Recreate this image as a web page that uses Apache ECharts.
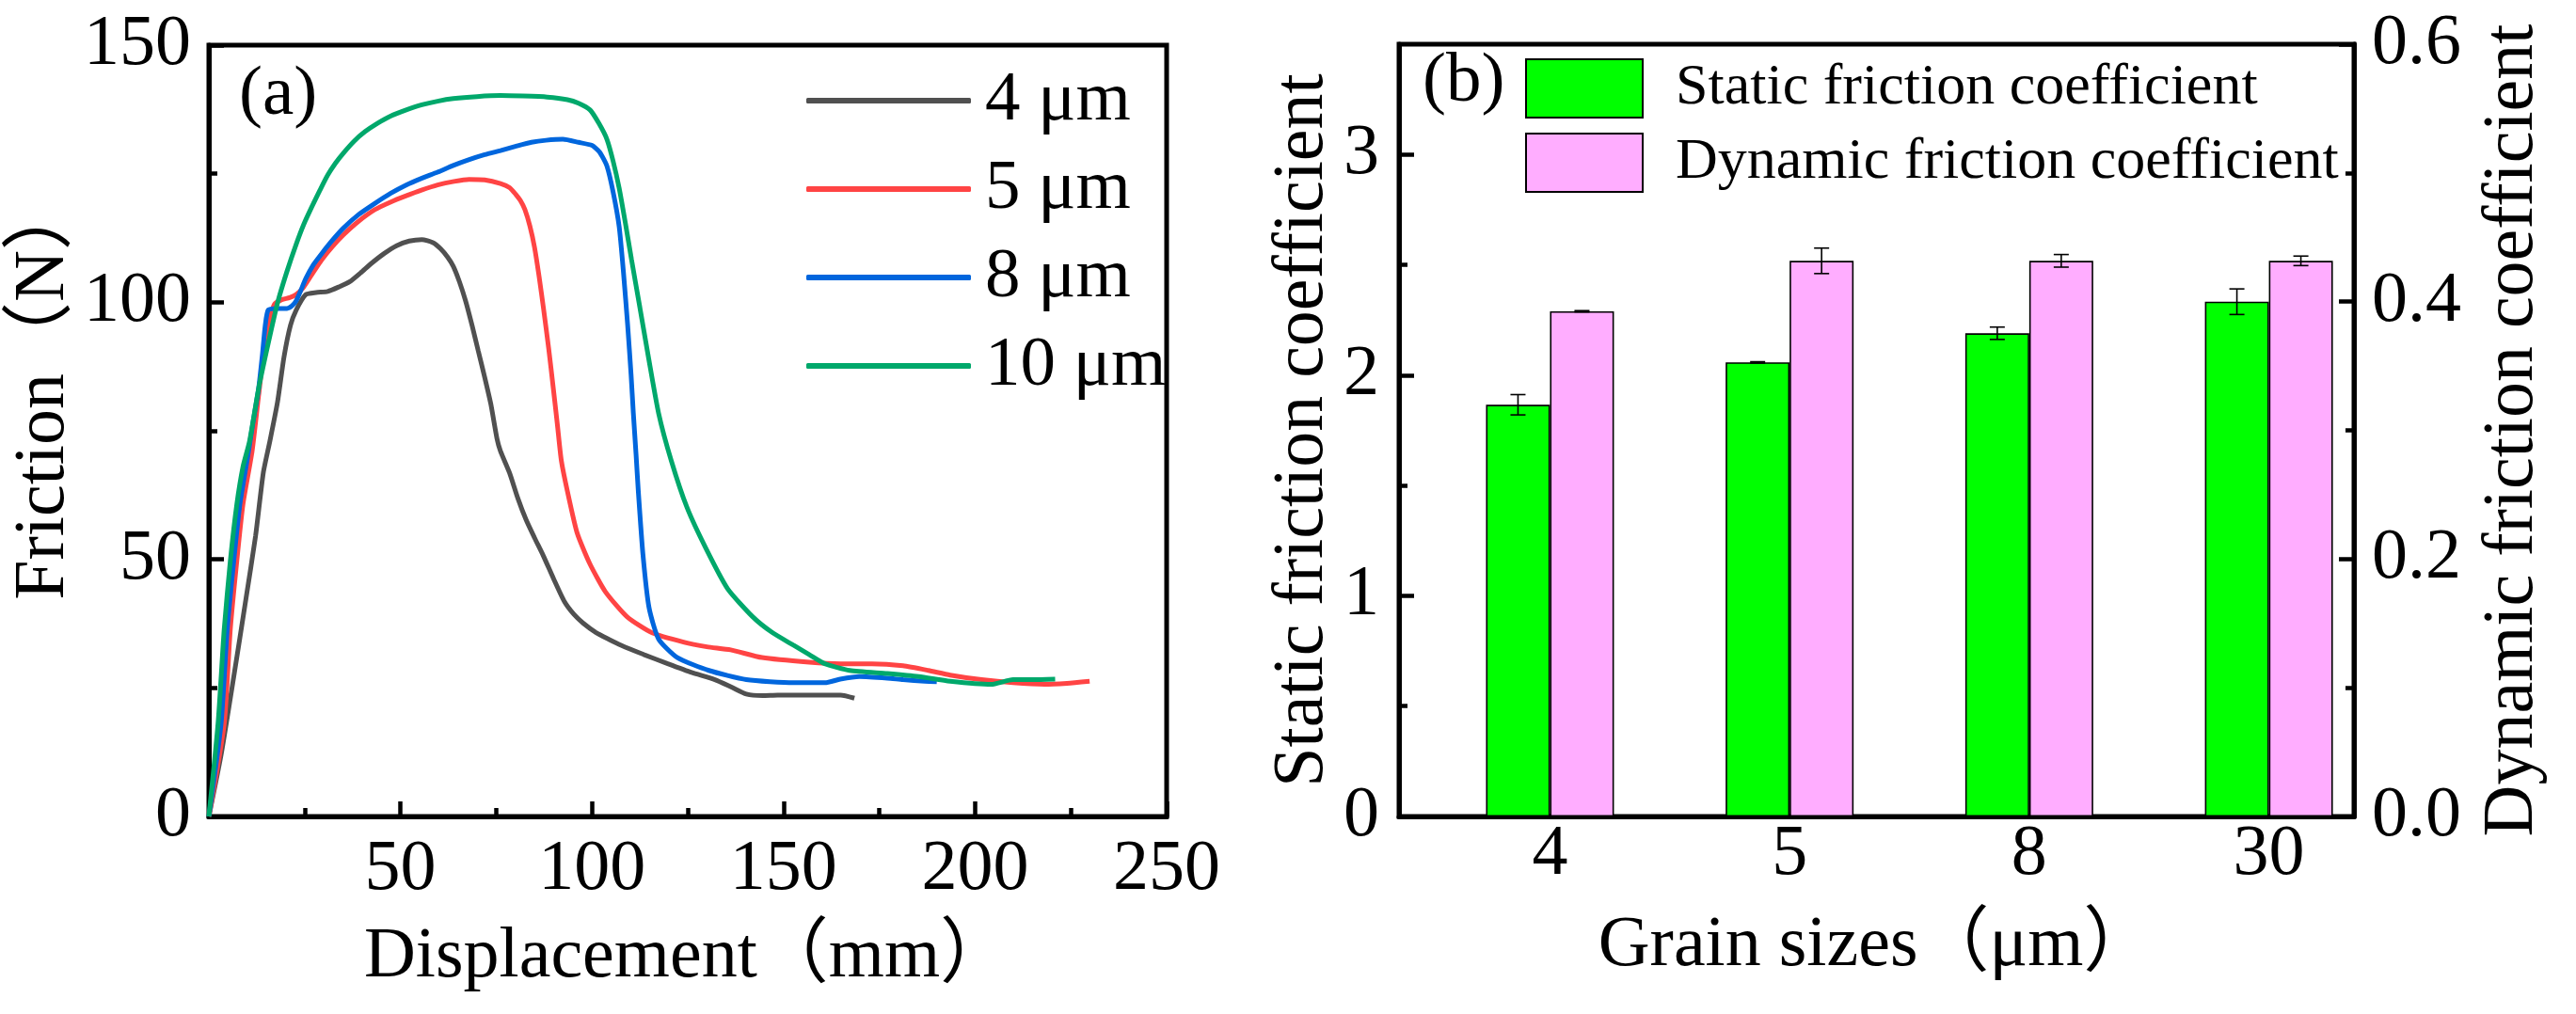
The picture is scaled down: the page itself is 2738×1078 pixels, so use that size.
<!DOCTYPE html>
<html>
<head>
<meta charset="utf-8">
<script src="https://cdn.jsdelivr.net/npm/echarts@6/dist/echarts.min.js"></script>
<style>
html, body { margin: 0; padding: 0; background: #fff; }
#main { width: 2738px; height: 1078px; }
</style>
</head>
<body>
<div id="main"></div>
<script>
// (a) friction vs displacement, [displacement mm, friction N]
var curve4um = [[0,0],[3.2,12],[6.5,27.2],[9.7,42.4],[12.2,54.6],[14.2,66.8],[15.9,72.9],[17.9,80.5],[19.6,89.3],[21.3,95.5],[22.8,98.5],[25.3,101.5],[28,101.9],[31,102.1],[34,103],[36.8,104],[39.6,105.7],[42.5,107.6],[45.8,109.5],[49,111],[52.3,111.9],[55.6,112.2],[58.5,111.6],[60.5,110.4],[62.3,108.8],[63.8,107],[65.4,104],[67,100.3],[68.7,95.5],[70.3,90.6],[72,85.4],[73.6,80.2],[75.2,73.5],[76.1,71.1],[78.5,66.8],[80.6,62],[82.8,57.7],[85,54.2],[87.3,50.7],[90,46.2],[92.8,41.8],[95.3,39.3],[97.7,37.6],[101,35.8],[104.3,34.5],[107.6,33.3],[113.5,31.5],[119.8,29.7],[126,28],[132.1,26.6],[136.3,25.2],[140.3,23.8],[144.5,23.5],[148.5,23.6],[156.7,23.6],[164.9,23.6],[168.5,23]];
var curve5um = [[0,0],[4,18],[5.6,36.4],[7.3,49.7],[8.9,60.7],[11.3,71.1],[13,82],[14.7,92.4],[16,97],[17.1,99.6],[19,100.5],[21.1,100.9],[22.8,101.5],[24.5,102.7],[26.8,105.3],[29.4,108.2],[32.2,110.8],[35.1,113.1],[39,115.7],[43.3,118],[47.5,119.5],[51.5,120.7],[55.5,121.8],[59.7,122.8],[64,123.5],[67.9,123.9],[72,123.8],[76.1,123.1],[78.5,122.3],[80.1,121],[81.3,119.8],[82.5,118],[83.8,114.8],[85,110.7],[86.2,105],[87.4,98.5],[88.7,91],[89.9,83.3],[91,76],[92,69.2],[93.6,63.2],[96.1,55.2],[99.4,49.2],[103.5,43.7],[109.2,38.8],[115.7,35.7],[123.9,33.9],[130,33],[136.2,32.4],[144.4,30.9],[156.7,30],[164.9,29.7],[173.1,29.7],[181.2,29.3],[187.8,28.4],[193.5,27.5],[201.7,26.6],[209.9,26],[218.1,25.7],[224,25.9],[229.9,26.3]];
var curve8um = [[0,0],[3.2,18.1],[4.8,36.4],[6.5,49.7],[8.1,60.7],[10.1,69.8],[11.5,76.5],[13,83.3],[14,90],[14.7,95.4],[15.5,98.5],[17.9,98.8],[20.4,98.8],[21.7,99.3],[22.8,100.3],[24,102.3],[25.3,104.6],[27.3,107.3],[29.4,109.4],[32.2,112],[35.1,114.4],[39,117],[43.3,119.2],[47.5,121.2],[51.5,122.8],[55.5,124.1],[59.7,125.3],[63.8,126.6],[67.8,127.7],[72,128.7],[76.1,129.5],[80,130.3],[84.2,131.1],[88,131.5],[92.4,131.7],[96.5,131.1],[100,130.5],[102,129.2],[103.9,126.5],[105.5,121.5],[107.1,114.7],[108.2,106],[109.3,95.7],[110.2,86],[110.8,78.4],[111.5,70.5],[112.1,63.2],[113.3,51],[114.9,40.6],[117.4,34.5],[122.3,30.9],[130.5,28.4],[140.3,26.6],[152.6,26],[160.8,26],[164.8,26.7],[169.8,27.2],[177.1,26.9],[181.2,26.6],[186.9,26.3],[190,26.2]];
var curve10um = [[0,0],[2.4,18.1],[4,36.4],[5.6,49.7],[7.3,60.7],[8.9,68],[10.6,72.9],[13,83.3],[15.5,92],[17.9,99.8],[20.3,105.8],[22.8,111.3],[24.8,115.2],[26.9,118.6],[29,121.8],[31,124.7],[33,127],[35.1,129],[38,131.4],[40.8,133.2],[44,134.8],[47.4,136.2],[51.5,137.4],[55.6,138.4],[59.7,139.1],[63.8,139.6],[70,140],[76.1,140.2],[82,140.1],[88.3,139.9],[93.6,139.4],[96.5,138.7],[99.5,137.4],[101.8,134.8],[103.9,131.7],[105.5,127.5],[107.1,122.2],[108.7,115.5],[110.3,108.4],[112.5,99],[114.7,89.5],[117.4,78.4],[120.7,69.2],[124.8,60.1],[129.7,52.2],[135.4,44.3],[142,38.8],[147,35.8],[152.6,33.3],[156.7,31.5],[160.8,29.7],[167.3,28.4],[177.1,27.8],[185.3,27.2],[193.5,26.3],[204.2,25.7],[209.9,26.6],[215,26.6],[220.9,26.7]];
var curveNames = ['4 μm', '5 μm', '8 μm', '10 μm'];

// (b) friction coefficients vs grain size
var grainSizes = ['4', '5', '8', '30'];
var grainPos = [1, 2, 3, 4];
var staticMean = [1.866, 2.058, 2.19, 2.333];
var staticErr = [0.046, 0.003, 0.028, 0.058];
var dynamicMean = [0.3925, 0.4317, 0.4317, 0.4317];
var dynamicErr = [0.0005, 0.0099, 0.0049, 0.0037];

var FONT = "'Liberation Serif', 'Times New Roman', 'Noto Sans CJK SC', serif";
var lineColors = ['#505050', '#FF4444', '#0066DD', '#00A86B'];
var barW = 68;
var capHalf = 8;

var dom = document.getElementById('main');
var myChart = echarts.init(dom);

function tickAxis(extra) {
	var base = {
		axisLine: { show: true, lineStyle: { color: '#000', width: 5 } },
		axisTick: { show: true, inside: true, length: 16, lineStyle: { color: '#000', width: 4.5 } },
		minorTick: { show: true, splitNumber: 2, length: 9, lineStyle: { color: '#000', width: 4.5 } },
		splitLine: { show: false },
		axisLabel: { color: '#000', fontSize: 76, fontFamily: FONT },
		nameTextStyle: { color: '#000', fontSize: 76, fontFamily: FONT },
		nameLocation: 'middle'
	};
	return echarts.util.merge(base, extra, true);
}

function errorBars(name, means, errs, yIndex, dx) {
	return {
		type: 'custom',
		name: name,
		xAxisIndex: 1,
		yAxisIndex: yIndex,
		z: 5,
		silent: true,
		data: grainPos.map(function (p, i) { return [p, means[i], errs[i]]; }),
		renderItem: function (params, api) {
			var x = api.value(0), m = api.value(1), e = api.value(2);
			var hi = api.coord([x, m + e]);
			var lo = api.coord([x, m - e]);
			var cx = hi[0] + dx;
			var st = { stroke: '#000', lineWidth: 1.6 };
			return {
				type: 'group',
				children: [
					{ type: 'line', shape: { x1: cx, y1: hi[1], x2: cx, y2: lo[1] }, style: st },
					{ type: 'line', shape: { x1: cx - capHalf, y1: hi[1], x2: cx + capHalf, y2: hi[1] }, style: st },
					{ type: 'line', shape: { x1: cx - capHalf, y1: lo[1], x2: cx + capHalf, y2: lo[1] }, style: st }
				]
			};
		}
	};
}

var curves = [curve4um, curve5um, curve8um, curve10um];
var lineSeries = curves.map(function (c, i) {
	return {
		name: curveNames[i],
		type: 'line',
		xAxisIndex: 0,
		yAxisIndex: 0,
		data: c,
		showSymbol: false,
		symbol: 'none',
		smooth: 0.2,
		lineStyle: { color: lineColors[i], width: 5 },
		itemStyle: { color: lineColors[i] },
		z: 3
	};
});

var option = {
	animation: false,
	backgroundColor: '#fff',
	grid: [
		{ left: 222, right: 1498, top: 48, bottom: 210, show: true, borderColor: '#000', borderWidth: 5, backgroundColor: 'transparent' },
		{ left: 1487, right: 236, top: 47, bottom: 210, show: true, borderColor: '#000', borderWidth: 5, backgroundColor: 'transparent' }
	],
	legend: [
		{
			data: curveNames,
			orient: 'vertical',
			left: 857,
			top: 60,
			padding: 0,
			itemGap: 0,
			itemWidth: 175,
			itemHeight: 6,
			icon: 'roundRect',
			textStyle: { color: '#000', fontSize: 75, fontFamily: FONT, lineHeight: 94, padding: [0, 0, 0, 10] }
		},
		{
			data: ['Static friction coefficient', 'Dynamic friction coefficient'],
			orient: 'vertical',
			left: 1621,
			top: 62,
			padding: 0,
			itemGap: 15,
			itemWidth: 124,
			itemHeight: 62,
			icon: 'rect',
			textStyle: { color: '#000', fontSize: 62, fontFamily: FONT, lineHeight: 62, padding: [0, 0, 0, 30] }
		}
	],
	graphic: [
		{ type: 'text', left: 254, top: 64, style: { text: '(a)', fill: '#000', fontSize: 75, fontFamily: FONT } },
		{ type: 'text', left: 1512, top: 50, style: { text: '(b)', fill: '#000', fontSize: 75, fontFamily: FONT } }
	],
	xAxis: [
		tickAxis({
			gridIndex: 0, type: 'value', min: 0, max: 250, interval: 50,
			name: 'Displacement（mm）', nameGap: 112,
			axisLabel: { margin: 19, formatter: function (v) { return v === 0 ? '' : v; } }
		}),
		tickAxis({
			gridIndex: 1, type: 'value', min: 0.37, max: 4.355,
			name: 'Grain sizes（μm）', nameGap: 100,
			axisTick: { show: false },
			minorTick: { show: false },
			axisLabel: {
				margin: 3,
				customValues: grainPos,
				formatter: function (v) { return grainSizes[grainPos.indexOf(v)]; }
			}
		})
	],
	yAxis: [
		tickAxis({
			gridIndex: 0, type: 'value', min: 0, max: 150, interval: 50,
			name: 'Friction（N）', nameGap: 136, nameRotate: 90,
			nameTextStyle: { padding: [0, 0, 0, 88] },
			axisLabel: { margin: 19 }
		}),
		tickAxis({
			gridIndex: 1, type: 'value', position: 'left', min: 0, max: 3.5,
			name: 'Static friction coefficient', nameGap: 64, nameRotate: 90,
			axisTick: { customValues: [0, 1, 2, 3] },
			minorTick: { show: false },
			axisLabel: { margin: 21, customValues: [0, 1, 2, 3] }
		}),
		tickAxis({
			gridIndex: 1, type: 'value', position: 'right', min: 0, max: 0.6, interval: 0.2,
			name: 'Dynamic friction coefficient', nameGap: 131, nameRotate: 90,
			axisLabel: { margin: 19, formatter: function (v) { return v.toFixed(1); } }
		}),
		// minor ticks for the static axis
		tickAxis({
			gridIndex: 1, type: 'value', position: 'left', min: 0, max: 3.5,
			axisLine: { show: false },
			axisLabel: { show: false },
			minorTick: { show: false },
			axisTick: { length: 9, customValues: [0.5, 1.5, 2.5] }
		})
	],
	series: lineSeries.concat([
		{
			name: 'Static friction coefficient',
			type: 'bar',
			xAxisIndex: 1,
			yAxisIndex: 1,
			barWidth: barW,
			barGap: '0%',
			data: grainPos.map(function (p, i) { return [p, staticMean[i]]; }),
			itemStyle: { color: '#00FF00', borderColor: '#000', borderWidth: 1.6 }
		},
		{
			name: 'Dynamic friction coefficient',
			type: 'bar',
			xAxisIndex: 1,
			yAxisIndex: 2,
			barWidth: barW,
			barGap: '0%',
			data: grainPos.map(function (p, i) { return [p, dynamicMean[i]]; }),
			itemStyle: { color: '#FFADFF', borderColor: '#000', borderWidth: 1.6 }
		},
		errorBars('staticErr', staticMean, staticErr, 1, -barW / 2),
		errorBars('dynamicErr', dynamicMean, dynamicErr, 2, barW / 2)
	])
};

if (option && typeof option === "object") {
	myChart.setOption(option, true);
}
</script>
</body>
</html>
